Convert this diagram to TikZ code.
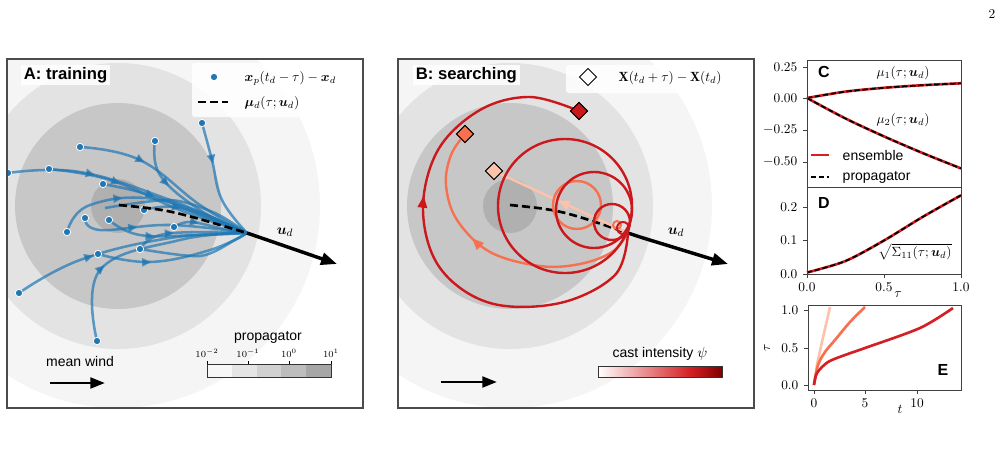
\documentclass[tikz,border=0pt]{standalone}
\usepackage{amsmath,amssymb,bm}
\usepackage{fontspec}
\setsansfont{Liberation Sans}
\usetikzlibrary{arrows.meta,shapes.geometric,decorations.markings}
\definecolor{tblue}{HTML}{1F77B4}
\definecolor{dred}{HTML}{D42024}
\definecolor{ored}{HTML}{F7704F}
\definecolor{pred}{HTML}{FCC3AA}
\definecolor{dd}{HTML}{CB181D}
\begin{document}
\begin{tikzpicture}[x=0.75pt,y=-0.75pt,
 traj/.style={tblue,opacity=0.7,line width=1.9pt,line cap=round,
   postaction={decorate,decoration={markings,mark=at position 0.35 with {\arrow{Triangle[length=7pt,width=6pt]}}}}},
 dot/.style={circle,fill=tblue,draw=white,line width=0.6pt,inner sep=0pt,minimum size=5.5pt},
 title/.style={fill=white,fill opacity=0.85,text opacity=1,font=\sffamily\bfseries\fontsize{12.5}{14}\selectfont,inner sep=2pt},
 lab/.style={font=\fontsize{10}{12}\selectfont},
 tick/.style={font=\fontsize{10}{12}\selectfont},
 dia/.style={diamond,draw=black,line width=0.6pt,minimum size=13pt,inner sep=0pt},
 big/.style={-{Triangle[length=12pt,width=9pt]},line width=2.6pt},
 rarr/.style={postaction={decorate,decoration={markings,mark=at position #1 with {\arrow{Triangle[length=9pt,width=7pt]}}}}}
]
\useasboundingbox (0,0) rectangle (1004,451);
\node[font=\fontsize{10}{12}\selectfont] (pg) at (992,14) {2};
% ---------- Panel A ----------
\begin{scope}
\clip (7,59) rectangle (363,408);
\fill[black!4] (118,206) circle (202);
\fill[black!11] (118,206) circle (143);
\fill[black!22] (118,206) circle (103);
\fill[black!31] (118,206) circle (27);
\coordinate (sA) at (247,233);
\foreach \a/\b/\c in {
 {(202,123)}/{(212,160)}/{(222,200)},
 {(155,141)}/{(160,175)}/{(200,210)},
 {(80,147)}/{(140,160)}/{(200,205)},
 {(8,173)}/{(80,172)}/{(170,200)},
 {(49,169)}/{(110,180)}/{(180,210)},
 {(103,184)}/{(150,195)}/{(200,215)},
 {(144,210)}/{(175,207)}/{(215,220)},
 {(85,218)}/{(100,230)}/{(170,225)},
 {(67,232)}/{(90,205)}/{(160,200)},
 {(109,220)}/{(140,235)}/{(200,235)},
 {(174,227)}/{(190,222)}/{(220,228)},
 {(140,249)}/{(160,235)}/{(210,232)},
 {(98,254)}/{(150,262)}/{(210,250)},
 {(19,293)}/{(80,260)}/{(170,238)},
 {(97,341)}/{(100,270)}/{(180,240)}}
 {\draw[traj] plot[smooth,tension=0.7] coordinates {\a \b \c (sA)};}
\draw[tblue,opacity=0.7,line width=1.9pt] plot[smooth] coordinates {(140,249)(200,256)(235,240)(sA)};
\draw[tblue,opacity=0.7,line width=1.9pt] plot[smooth] coordinates {(105,208)(170,200)(215,213)(sA)};
\foreach \p in {(202,123),(155,141),(80,147),(8,173),(49,169),(103,184),(144,210),(85,218),(67,232),(109,220),(174,227),(140,249),(98,254),(19,293),(97,341)}
 \node[dot] at \p {};
\coordinate (cA) at (119,205);
\coordinate (eA) at (337,264);
\draw[dashed,line width=2pt,dash pattern=on 6pt off 3pt] (cA) .. controls (170,210) .. (sA);
\draw[big] (sA) -- (eA);
\end{scope}
\draw[gray!60!black,line width=0.8pt] (7,59) rectangle (363,408);
\node[title,anchor=west] (tA) at (21,75) {A: training};
\fill[white,opacity=0.85,rounded corners=2pt] (192,63) rectangle (358,117);
\node[dot] (lgdot) at (214,77) {};
\node[lab,anchor=west] (lgA1) at (240,78) {$\bm{x}_p(t_d-\tau)-\bm{x}_d$};
\draw[line width=2pt,dash pattern=on 6pt off 3pt] (198,102) -- (228,102);
\node[lab,anchor=west] (lgA2) at (240,103) {$\bm{\mu}_d(\tau;\bm{u}_d)$};
\node[font=\fontsize{11}{13}\selectfont] (udA) at (285,232) {$\bm{u}_d$};
\node[font=\sffamily\fontsize{10.5}{12}\selectfont] (mw) at (80,361) {mean wind};
\coordinate (mw1) at (50,383); \coordinate (mw2) at (105,383);
\draw[big,-{Triangle[length=11pt,width=8pt]},line width=2.2pt] (mw1) -- (mw2);
\node[font=\sffamily\fontsize{10.5}{12}\selectfont] (prop) at (268,337) {propagator};
\foreach \i/\c in {0/black!3,1/black!10,2/black!18,3/black!26,4/black!35}
 \fill[\c] (207+24.8*\i,364) rectangle (207+24.8*\i+24.8,377);
\draw[gray!40!black,line width=0.5pt] (207,364) rectangle (331,377);
\foreach \x/\t in {207/{-2},248/{-1},289/0,331/1}{
 \draw (\x,364) -- (\x,361);
 \node[font=\fontsize{7}{8}\selectfont] at (\x,353) {$10^{\t}$};}
% ---------- Panel B ----------
\begin{scope}
\clip (398,59) rectangle (754,408);
\fill[black!4] (510,206) circle (202);
\fill[black!11] (510,206) circle (143);
\fill[black!22] (510,206) circle (103);
\fill[black!31] (510,206) circle (27);
\coordinate (sB) at (628,233);
\coordinate (cB) at (510,205);
\draw[dashed,line width=2pt,dash pattern=on 6pt off 3pt] (cB) .. controls (560,210) .. (sB);
\draw[line width=2.6pt] (sB) -- (640,237);
\draw[big] (640,237) -- (728,264);
% pale
\node[dia,fill=pred] (d1) at (494,171) {};
\draw[pred,line width=1.8pt,rarr=0.55] (sB) -- (d1);
% orange
\node[dia,fill=ored] (d2) at (465,134) {};
\draw[ored,line width=1.8pt] (577,205) circle (24);
\draw[ored,line width=1.5pt] (617,225) circle (4);
\draw[ored,line width=1.8pt,rarr=0.6] plot[smooth,tension=0.6] coordinates {(sB)(612,252)(580,264)(540,266)(490,252)(457,220)(446,185)(451,155)(d2)};
% dark red
\node[dia,fill=dd] (d3) at (579,111) {};
\draw[dd,line width=1.8pt] (565,206) circle (67);
\draw[dd,line width=1.8pt] (594,210) circle (38);
\draw[dd,line width=1.8pt] (612,222) circle (18);
\draw[dd,line width=1.5pt] (623,228) circle (6);
\draw[dd,line width=1.8pt,rarr=0.6] plot[smooth,tension=0.6] coordinates {(sB)(615,275)(560,303)(490,303)(440,268)(423,210)(438,150)(480,110)(530,97)(d3)};
\node[dia,fill=dd] at (579,111) {};
\node[dia,fill=ored] at (465,134) {};
\node[dia,fill=pred] at (494,171) {};
\end{scope}
\draw[gray!60!black,line width=0.8pt] (398,59) rectangle (754,408);
\node[title,anchor=west] (tB) at (413,75) {B: searching};
\fill[white,opacity=0.85,rounded corners=2pt] (566,65) rectangle (742,93);
\node[dia,fill=white] (lgdia) at (588,77) {};
\node[lab,anchor=west] (lgB) at (614,78) {$\mathbf{X}(t_d+\tau)-\mathbf{X}(t_d)$};
\node[font=\fontsize{11}{13}\selectfont] (udB) at (676,232) {$\bm{u}_d$};
\coordinate (mb1) at (441,382); \coordinate (mb2) at (497,382);
\draw[big,-{Triangle[length=11pt,width=8pt]},line width=2.2pt] (mb1) -- (mb2);
\node[font=\sffamily\fontsize{10.5}{12}\selectfont] (ci) at (660,354) {cast intensity $\psi$};
\shade[left color=white,right color=dred] (598,366) rectangle (690,377);
\shade[left color=dred,right color=red!50!black] (690,366) rectangle (722,377);
\draw[gray!40!black,line width=0.5pt] (598,366) rectangle (722,377);
% ---------- Panel C ----------
\draw[dred,line width=2pt] plot[smooth] coordinates {(807,98)(845.5,91.6)(884,87.8)(922.5,85.2)(961,83.3)};
\draw[dashed,line width=1.3pt,dash pattern=on 4pt off 2pt] plot[smooth] coordinates {(807,98)(845.5,91.6)(884,87.8)(922.5,85.2)(961,83.3)};
\draw[dred,line width=2pt] plot[smooth] coordinates {(807,98)(845.5,118.5)(884,136.4)(922.5,153)(961,168.4)};
\draw[dashed,line width=1.3pt,dash pattern=on 4pt off 2pt] plot[smooth] coordinates {(807,98)(845.5,118.5)(884,136.4)(922.5,153)(961,168.4)};
\draw[gray!50!black,line width=0.7pt] (807,60) rectangle (961,187);
\foreach \y/\t in {67/0.25,98/0.00,130/-0.25,162/-0.50}{
 \draw[gray!50!black] (807,\y) -- (803,\y);
 \node[tick,anchor=east] at (802,\y) {$\t$};}
\node[font=\sffamily\bfseries\fontsize{12}{14}\selectfont] (C) at (824,72) {C};
\node[lab] (mu1) at (903,73) {$\mu_1(\tau;\bm{u}_d)$};
\node[lab] (mu2) at (903,120) {$\mu_2(\tau;\bm{u}_d)$};
\draw[dred,line width=2pt] (811,155) -- (829,155);
\node[font=\sffamily\fontsize{10.5}{12}\selectfont,anchor=west] (ens) at (838,155) {ensemble};
\draw[line width=1.3pt,dash pattern=on 4pt off 2pt] (811,177) -- (829,177);
\node[font=\sffamily\fontsize{10.5}{12}\selectfont,anchor=west] (prp) at (838,177) {propagator};
% ---------- Panel D ----------
\draw[dred,line width=2pt] plot[smooth] coordinates {(807,272.5)(845.5,261)(884,240.5)(922.5,217)(961,195.3)};
\draw[dashed,line width=1.3pt,dash pattern=on 4pt off 2pt] plot[smooth] coordinates {(807,272.5)(845.5,261)(884,240.5)(922.5,217)(961,195.3)};
\draw[gray!50!black,line width=0.7pt] (807,187) rectangle (961,274);
\foreach \y/\t in {207/0.2,240/0.1,274/0.0}{
 \draw[gray!50!black] (807,\y) -- (803,\y);
 \node[tick,anchor=east] at (802,\y) {$\t$};}
\foreach \x/\t in {807/0.0,884/0.5,961/1.0}{
 \draw[gray!50!black] (\x,274) -- (\x,278);
 \node[tick,anchor=north] at (\x,278) {$\t$};}
\node[tick] (tauD) at (898,295) {$\tau$};
\node[font=\sffamily\bfseries\fontsize{12}{14}\selectfont] (D) at (824,203) {D};
\node[lab] (sig) at (915,252) {$\sqrt{\Sigma_{11}(\tau;\bm{u}_d)}$};
% ---------- Panel E ----------
\draw[pred,line width=2pt] plot[smooth] coordinates {(814,385)(817,365)(822,342)(830,307)};
\draw[ored,line width=2pt] plot[smooth] coordinates {(814,385)(818,365)(825,352)(835,340)(850,322)(865,307)};
\draw[dred,line width=2pt] plot[smooth] coordinates {(814,385)(817,373)(828,362)(845,355)(865,348)(920,328)(953,308)};
\draw[gray!50!black,line width=0.7pt] (808,305) rectangle (961,390);
\foreach \y/\t in {310/1.0,348/0.5,385/0.0}{
 \draw[gray!50!black] (808,\y) -- (804,\y);
 \node[tick,anchor=east] at (803,\y) {$\t$};}
\foreach \x/\t in {814/0,865/5,917/10}{
 \draw[gray!50!black] (\x,390) -- (\x,394);
 \node[tick,anchor=north] at (\x,394) {$\t$};}
\node[tick,rotate=90] (tauE) at (767,348) {$\tau$};
\node[tick] (tE) at (900,409) {$t$};
\node[font=\sffamily\bfseries\fontsize{12}{14}\selectfont] (E) at (943,370) {E};
\end{tikzpicture}
\end{document}
